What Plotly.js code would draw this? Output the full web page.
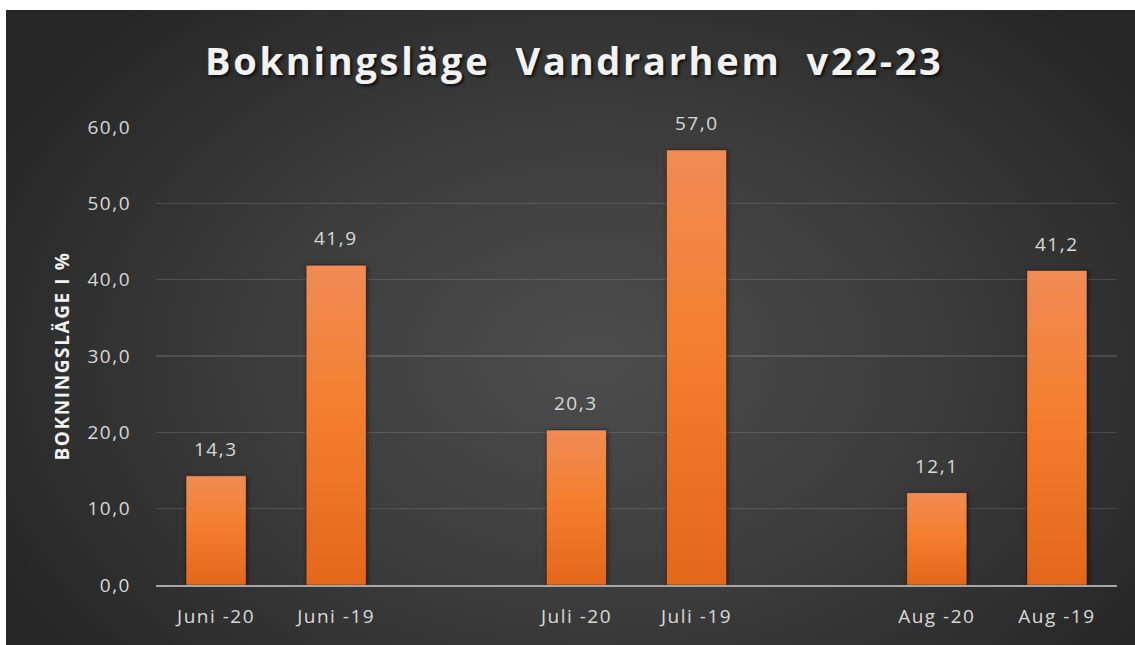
<!DOCTYPE html>
<html>
<head>
<meta charset="utf-8">
<script src="https://cdn.plot.ly/plotly-3.0.1.min.js"></script>
<style>
  html, body { margin: 0; padding: 0; background: #ffffff; }
  #wrap { position: relative; width: 1135px; height: 645px; background: #ffffff; overflow: hidden; }
  #bg { position: absolute; left: 6px; top: 10px; right: 0; bottom: 0;
        background: radial-gradient(ellipse 60% 75% at 52% 55%, #4d4d4d 0%, #3c3c3c 50%, #262626 100%); }
  #chart { position: absolute; left: 0; top: 0; width: 1135px; height: 645px; }
  #chart .gtitle { letter-spacing: 2.7px; }
  #chart .xtick text, #chart .ytick text, #chart .annotation-text { letter-spacing: 1.5px; }
  #chart .ytitle { letter-spacing: 1.6px; }
</style>
</head>
<body>
<div id="wrap"><div id="bg"></div><div id="chart"></div></div>
<script>
const categories = ["Juni -20", "Juni -19", " ", "Juli -20", "Juli -19", "  ", "Aug -20", "Aug -19"];
const values = [14.3, 41.9, null, 20.3, 57.0, null, 12.1, 41.2];
const yTickVals = [0, 10, 20, 30, 40, 50, 60];
const chartTitle = "Bokningsläge  Vandrarhem  v22-23";
const yTitle = "BOKNINGSLÄGE I %";

const labelAnnotations = categories.map((c, i) => values[i] === null ? null : ({
  x: c, y: values[i], xref: "x", yref: "y",
  text: values[i].toFixed(1).replace(".", ","),
  showarrow: false, yanchor: "bottom", yshift: 12,
  font: { family: "Open Sans", size: 19, color: "#d9d9d9" }
})).filter(a => a);

const trace = {
  type: "bar",
  x: categories,
  y: values,
  marker: { color: "#f17e2e", line: { color: "rgba(0,0,0,0.35)", width: 1 } },
  hoverinfo: "skip"
};

const layout = {
  width: 1135, height: 645,
  paper_bgcolor: "rgba(0,0,0,0)",
  plot_bgcolor: "rgba(0,0,0,0)",
  margin: { l: 156, r: 18, t: 127, b: 60 },
  separators: ", ",
  bargap: 0.5,
  showlegend: false,
  title: {
    text: chartTitle,
    x: 0.506, xanchor: "center", xref: "container",
    y: 1 - 62 / 645, yanchor: "middle", yref: "container",
    font: { family: "Open Sans", size: 38, weight: 700, color: "#f2f2f2", shadow: "2px 2px 3px rgba(0,0,0,0.7)" }
  },
  xaxis: {
    type: "category",
    showgrid: false,
    showline: true, linecolor: "#a6a6a6", linewidth: 2,
    ticks: "", ticklabelstandoff: 13,
    tickfont: { family: "Open Sans", size: 19, color: "#d9d9d9" },
    fixedrange: true
  },
  yaxis: {
    range: [0, 60],
    tickvals: yTickVals,
    tickformat: ".1f",
    showgrid: true, gridcolor: "rgba(255,255,255,0.13)", gridwidth: 1.5,
    zeroline: false, showline: false,
    ticks: "", ticklabelstandoff: 24,
    tickfont: { family: "Open Sans", size: 19, color: "#d9d9d9" },
    title: { text: yTitle, standoff: 18, font: { family: "Open Sans", size: 19, weight: 700, color: "#f2f2f2" } },
    fixedrange: true
  },
  annotations: labelAnnotations
};

Plotly.newPlot("chart", [trace], layout, { displayModeBar: false, staticPlot: true }).then(gd => {
  const svg = gd.querySelector("svg.main-svg");
  const ns = "http://www.w3.org/2000/svg";
  let defs = svg.querySelector("defs");
  if (!defs) { defs = document.createElementNS(ns, "defs"); svg.insertBefore(defs, svg.firstChild); }
  const lg = document.createElementNS(ns, "linearGradient");
  lg.setAttribute("id", "barGrad");
  lg.setAttribute("x1", "0"); lg.setAttribute("y1", "0");
  lg.setAttribute("x2", "0"); lg.setAttribute("y2", "1");
  [["0%", "#f08b55"], ["45%", "#f47f2e"], ["100%", "#e4671a"]].forEach(([o, c]) => {
    const s = document.createElementNS(ns, "stop");
    s.setAttribute("offset", o); s.setAttribute("stop-color", c);
    lg.appendChild(s);
  });
  defs.appendChild(lg);
  gd.querySelectorAll(".bars .point path").forEach(p => {
    p.style.fill = "url(#barGrad)";
    p.setAttribute("filter", "drop-shadow(1px 1px 2px rgba(0,0,0,0.5))");
  });
});
</script>
</body>
</html>
